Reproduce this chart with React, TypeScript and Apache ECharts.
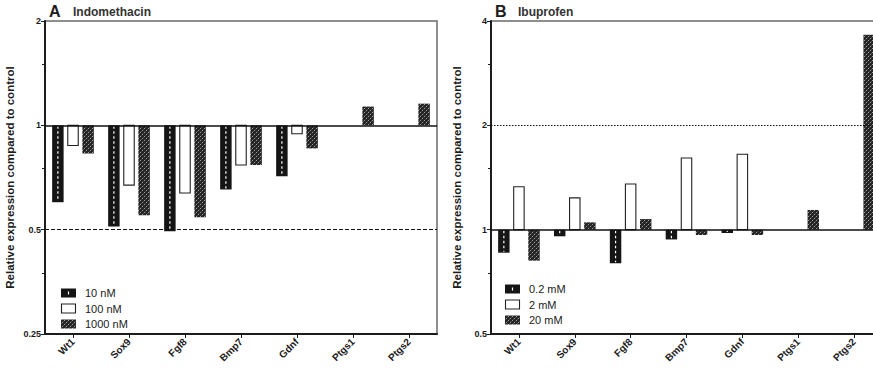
import React, { useEffect, useRef } from "react";
import * as echarts from "echarts";

const genes = ["Wt1", "Sox9", "Fgf8", "Bmp7", "Gdnf", "Ptgs1", "Ptgs2"];

// Indomethacin, relative expression vs control
const indoDoses = ["10 nM", "100 nM", "1000 nM"];
const indo10 = [0.6, 0.511, 0.495, 0.653, 0.713, null, null];
const indo100 = [0.875, 0.672, 0.638, 0.768, 0.946, null, null];
const indo1000 = [0.83, 0.55, 0.543, 0.768, 0.858, 1.133, 1.155];

// Ibuprofen, relative expression vs control
const ibuDoses = ["0.2 mM", "2 mM", "20 mM"];
const ibu02 = [0.858, 0.957, 0.8, 0.937, 0.978, null, null];
const ibu2 = [1.33, 1.235, 1.355, 1.61, 1.65, null, null];
const ibu20 = [0.814, 1.05, 1.073, 0.965, 0.965, 1.14, 3.65];

const indoTicks = [0.25, 0.5, 1, 2];
const ibuTicks = [0.5, 1, 2, 4];

const FONT = "'Liberation Sans', Arial, Helvetica, sans-serif";
const INK = "#1c1c1c";

// small speckled tile used for the highest-dose bars
function makeHatch(): HTMLCanvasElement {
  const c = document.createElement("canvas");
  c.width = 4;
  c.height = 4;
  const g = c.getContext("2d")!;
  g.fillStyle = "#242424";
  g.fillRect(0, 0, 4, 4);
  g.fillStyle = "#9a9a9a";
  g.fillRect(0, 0, 1, 1);
  g.fillRect(2, 2, 1, 1);
  g.fillStyle = "#4a4a4a";
  g.fillRect(3, 1, 1, 1);
  g.fillRect(1, 3, 1, 1);
  return c;
}

type Kind = "solid" | "open" | "hatched";

function toPairs(vals: (number | null)[]) {
  const out: number[][] = [];
  vals.forEach((v, i) => {
    if (v != null) out.push([i, v]);
  });
  return out;
}

function barSeries(
  name: string,
  vals: (number | null)[],
  axisIndex: number,
  kind: Kind,
  offset: number,
  hatch: any,
  extra: any = {}
) {
  return {
    type: "custom",
    name,
    xAxisIndex: axisIndex,
    yAxisIndex: axisIndex,
    clip: false,
    encode: { x: 0, y: 1 },
    data: toPairs(vals),
    renderItem: (params: any, api: any) => {
      const cat = api.value(0);
      const v = api.value(1);
      const base = api.coord([cat, 1]);
      const top = api.coord([cat, v]);
      const band = api.coord([1, 1])[0] - api.coord([0, 1])[0];
      const w = band * 0.205;
      const cx = base[0] + offset * band;
      const x = cx - w / 2;
      const y = Math.min(base[1], top[1]);
      const h = Math.abs(top[1] - base[1]);
      if (kind === "solid") {
        return {
          type: "group",
          children: [
            { type: "rect", shape: { x, y, width: w, height: h }, style: { fill: "#151515" } },
            {
              type: "line",
              shape: { x1: cx, y1: y + 1, x2: cx, y2: y + h - 1 },
              style: { stroke: "#ffffff", lineWidth: 1.2, lineDash: [2.5, 2.5] },
            },
          ],
        };
      }
      if (kind === "open") {
        return {
          type: "rect",
          shape: { x: x + 0.5, y, width: w - 1, height: h },
          style: { fill: "#ffffff", stroke: "#222", lineWidth: 1.1 },
        };
      }
      return {
        type: "rect",
        shape: { x, y, width: w, height: h },
        style: { fill: hatch },
      };
    },
    ...extra,
  };
}

function refLine(value: number, type: any, width: number) {
  return {
    silent: true,
    symbol: "none",
    label: { show: false },
    lineStyle: { color: "#111", type, width },
    data: [{ yAxis: value }],
  };
}

function legend(x: number, y0: number, names: string[], hatch: any) {
  const els: any[] = [];
  const step = 15.5;
  names.forEach((n, i) => {
    const cy = y0 + i * step;
    if (i === 0) {
      els.push({ type: "rect", shape: { x, y: cy - 4.5, width: 15, height: 9 }, style: { fill: "#151515" } });
      els.push({
        type: "line",
        shape: { x1: x + 7.5, y1: cy - 1.5, x2: x + 7.5, y2: cy + 1.5 },
        style: { stroke: "#fff", lineWidth: 1.2 },
      });
    } else if (i === 1) {
      els.push({
        type: "rect",
        shape: { x: x + 0.5, y: cy - 4.5, width: 14, height: 9 },
        style: { fill: "#fff", stroke: "#222", lineWidth: 1.1 },
      });
    } else {
      els.push({ type: "rect", shape: { x, y: cy - 4.5, width: 15, height: 9 }, style: { fill: hatch } });
    }
    els.push({
      type: "text",
      x: x + 24,
      y: cy,
      style: { text: n, font: `11px ${FONT}`, fill: "#222", verticalAlign: "middle" },
    });
  });
  return els;
}

function yAxis(gridIndex: number, min: number, max: number, ticks: number[], nameGap: number) {
  return {
    type: "log",
    logBase: 2,
    gridIndex,
    min,
    max,
    name: "Relative expression compared to control",
    nameLocation: "middle",
    nameGap,
    nameTextStyle: { fontFamily: FONT, fontWeight: "bold", fontSize: 11.5, color: INK },
    axisLine: { show: true, lineStyle: { color: INK, width: 2 } },
    axisTick: { show: true, length: 4, lineStyle: { color: INK, width: 1 } },
    minorTick: { show: true, splitNumber: 2, length: 3, lineStyle: { color: INK, width: 1 } },
    splitLine: { show: false },
    minorSplitLine: { show: false },
    axisLabel: {
      fontFamily: FONT,
      fontWeight: "bold",
      fontSize: 9,
      color: INK,
      margin: 4,
      formatter: (v: number) => (ticks.indexOf(v) >= 0 ? String(v) : ""),
    },
  };
}

function xAxis(gridIndex: number) {
  return {
    type: "category",
    gridIndex,
    data: genes,
    boundaryGap: true,
    axisLine: { show: true, lineStyle: { color: INK, width: 2 } },
    axisTick: { show: true, alignWithLabel: true, length: 4, lineStyle: { color: INK, width: 1 } },
    axisLabel: {
      interval: 0,
      rotate: 45,
      margin: 6,
      fontFamily: FONT,
      fontWeight: "bold",
      fontSize: 10,
      color: INK,
    },
  };
}

export default function App() {
  const ref = useRef<HTMLDivElement>(null);

  useEffect(() => {
    if (!ref.current) return;
    const chart = echarts.init(ref.current, undefined, { renderer: "svg" });
    const hatch = { image: makeHatch(), repeat: "repeat" };
    const off = 0.27;

    const option: any = {
      animation: false,
      backgroundColor: "#ffffff",
      grid: [
        {
          left: 45, top: 21, width: 392, height: 313, show: true,
          borderColor: "#6a6a6a", borderWidth: 1.5, outerBoundsMode: "none",
        },
        {
          left: 491, top: 21, width: 391, height: 313, show: true,
          borderColor: "#6a6a6a", borderWidth: 1.5, outerBoundsMode: "none",
        },
      ],
      xAxis: [xAxis(0), xAxis(1)],
      yAxis: [yAxis(0, 0.25, 2, indoTicks, 29), yAxis(1, 0.5, 4, ibuTicks, 28)],
      series: [
        barSeries(indoDoses[0], indo10, 0, "solid", -off, hatch, {
          markLine: refLine(1, "solid", 1.5),
        }),
        barSeries(indoDoses[1], indo100, 0, "open", 0, hatch),
        barSeries(indoDoses[2], indo1000, 0, "hatched", off, hatch, {
          markLine: refLine(0.5, [4, 2], 1.2),
        }),
        barSeries(ibuDoses[0], ibu02, 1, "solid", -off, hatch, {
          markLine: refLine(1, "solid", 1.5),
        }),
        barSeries(ibuDoses[1], ibu2, 1, "open", 0, hatch),
        barSeries(ibuDoses[2], ibu20, 1, "hatched", off, hatch, {
          markLine: refLine(2, [1.5, 1.5], 1.2),
        }),
      ],
      graphic: [
        { type: "text", x: 49, y: 3, style: { text: "A", font: `bold 16px ${FONT}`, fill: INK } },
        { type: "text", x: 73, y: 5.5, style: { text: "Indomethacin", font: `bold 12px ${FONT}`, fill: "#333" } },
        { type: "text", x: 495, y: 3, style: { text: "B", font: `bold 16px ${FONT}`, fill: INK } },
        { type: "text", x: 518, y: 5.5, style: { text: "Ibuprofen", font: `bold 12px ${FONT}`, fill: "#333" } },
        ...legend(61, 293, indoDoses, hatch),
        ...legend(505, 289, ibuDoses, hatch),
      ],
    };
    chart.setOption(option);
    return () => chart.dispose();
  }, []);

  return <div ref={ref} style={{ width: 873, height: 373, position: "absolute", left: 0, top: 0 }} />;
}
